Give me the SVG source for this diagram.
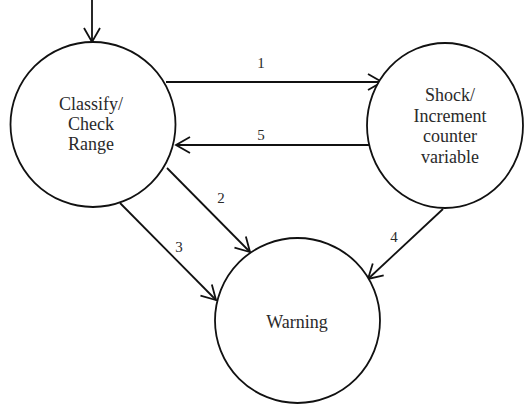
<svg xmlns="http://www.w3.org/2000/svg" width="525" height="407" viewBox="0 0 525 407">
<style>
.node{fill:#fff;stroke:#111;stroke-width:1.8}
text{font-family:'Liberation Serif','DejaVu Serif',serif;fill:#2a2a2a;text-anchor:middle}
.lbl{font-size:18px}
.num{font-size:15px}
.edge{stroke:#111;stroke-width:1.8;fill:none;marker-end:url(#arr)}
</style>
<defs>
<marker id="arr" markerUnits="userSpaceOnUse" markerWidth="18" markerHeight="18" refX="15" refY="9" orient="auto" viewBox="0 0 18 18">
<path d="M1,1 L15,9 L1,17" fill="none" stroke="#111" stroke-width="1.8"/>
</marker>
</defs>
<g id="edges">
<line class="edge" x1="92" y1="0" x2="92" y2="42"/>
<line class="edge" x1="166" y1="82" x2="382" y2="82"/>
<line class="edge" x1="369" y1="145" x2="176" y2="145"/>
<line class="edge" x1="167" y1="168" x2="250" y2="252"/>
<line class="edge" x1="120" y1="203" x2="216" y2="300"/>
<line class="edge" x1="443" y1="209" x2="368" y2="279"/>
<text class="num" x="261" y="68">1</text>
<text class="num" x="261" y="140">5</text>
<text class="num" x="221" y="203">2</text>
<text class="num" x="179" y="252">3</text>
<text class="num" x="394" y="242">4</text>
</g>
<g id="classify">
<circle class="node" cx="93" cy="124.5" r="82.5"/>
<text class="lbl" x="91" y="110">Classify/</text>
<text class="lbl" x="91" y="130">Check</text>
<text class="lbl" x="91" y="150">Range</text>
</g>
<g id="shock">
<ellipse class="node" cx="445" cy="125.5" rx="78" ry="82.5"/>
<text class="lbl" x="450" y="101">Shock/</text>
<text class="lbl" x="450" y="122">Increment</text>
<text class="lbl" x="450" y="142">counter</text>
<text class="lbl" x="450" y="163">variable</text>
</g>
<g id="warning">
<circle class="node" cx="297.5" cy="320.5" r="82.5"/>
<text class="lbl" x="297" y="328">Warning</text>
</g>
</svg>
